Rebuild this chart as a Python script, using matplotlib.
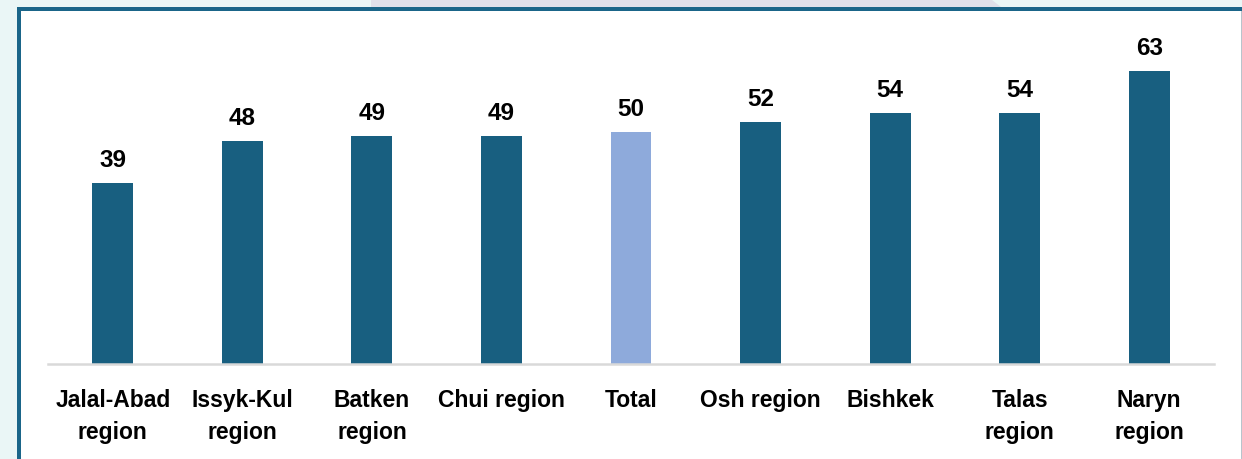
import matplotlib
matplotlib.use("Agg")
import matplotlib.pyplot as plt
from matplotlib.patches import Rectangle, Polygon

W, H = 1242, 459

regions = ["Jalal-Abad\nregion", "Issyk-Kul\nregion", "Batken\nregion", "Chui region",
           "Total", "Osh region", "Bishkek", "Talas\nregion", "Naryn\nregion"]
values = [39, 48, 49, 49, 50, 52, 54, 54, 63]
highlight = "Total"

DARK = "#185F80"
LIGHT = "#8EAADB"
BORDER = "#1A6589"


def fx(px):
    return px / W


def fy(py):
    return 1 - py / H


fig = plt.figure(figsize=(W / 100, H / 100), dpi=100, facecolor="#EAF6F6")

# background decoration, kept under the axes
deco = [
    Polygon([(fx(371), fy(0)), (fx(992), fy(0)), (fx(1001), fy(7)), (fx(371), fy(7))],
            closed=True, facecolor="#E0E0EA"),
    Rectangle((fx(17), fy(470)), fx(1241) - fx(17), fy(7) - fy(470), facecolor="white"),
    Rectangle((fx(17), fy(11)), fx(1242) - fx(17), fy(7) - fy(11), facecolor=BORDER),
    Rectangle((fx(17), fy(470)), fx(21) - fx(17), fy(7) - fy(470), facecolor=BORDER),
    Rectangle((fx(1241), fy(470)), fx(1242) - fx(1241), fy(11) - fy(470), facecolor="#B8C4CC"),
]
for p in deco:
    p.set_transform(fig.transFigure)
    p.set_edgecolor("none")
    p.set_zorder(-5)
    fig.patches.append(p)

ax = fig.add_axes([fx(48), fy(364), fx(1214) - fx(48), fy(11) - fy(364)])
ax.set_zorder(5)
ax.set_facecolor("none")

x = range(len(regions))
colors = [LIGHT if r == highlight else DARK for r in regions]
bars = ax.bar(x, values, width=0.316, color=colors)
ax.bar_label(bars, labels=[str(v) for v in values], padding=8,
             fontsize=17.5, fontweight="bold", family=["Liberation Sans", "DejaVu Sans"])

ax.set_xlim(-0.5, len(regions) - 0.5)
ax.set_ylim(0, 76)
ax.set_yticks([])
ax.set_xticks(list(x))
ax.set_xticklabels(regions, fontsize=16.5, fontweight="bold", linespacing=1.5,
                   family=["Liberation Sans Narrow", "Liberation Sans", "DejaVu Sans"])
ax.tick_params(axis="x", length=0, pad=18)
for s in ["top", "right", "left"]:
    ax.spines[s].set_visible(False)
ax.spines["bottom"].set_color("#D9D9D9")
ax.spines["bottom"].set_linewidth(1.8)

fig.savefig("out.png", dpi=100, facecolor=fig.get_facecolor())
